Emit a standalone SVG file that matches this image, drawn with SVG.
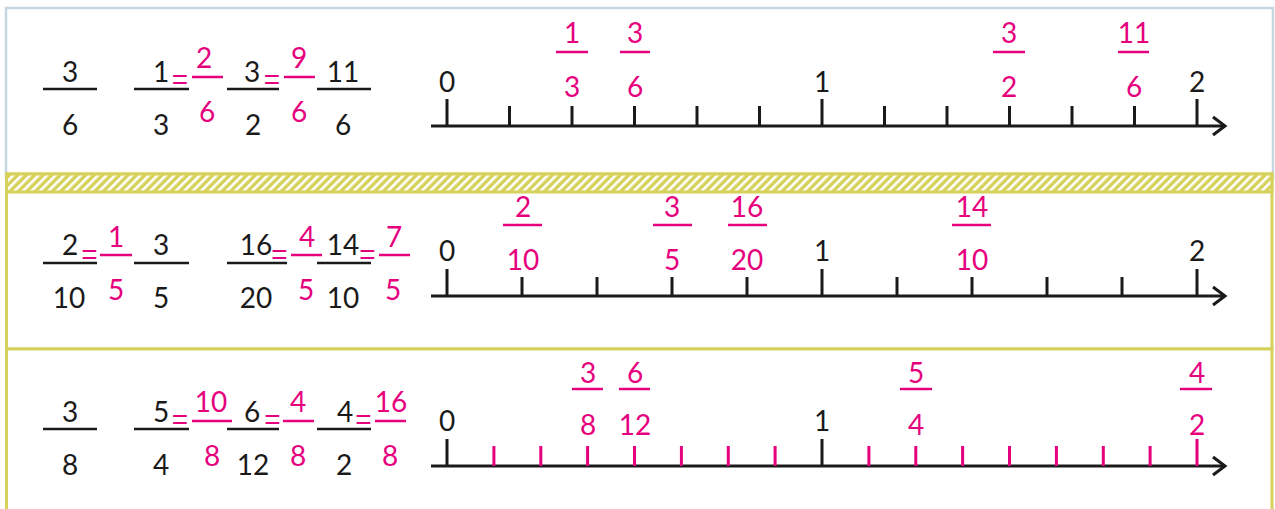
<svg xmlns="http://www.w3.org/2000/svg" width="1275" height="509" viewBox="0 0 1275 509">
<style>
text{font-family:Lato,"Liberation Sans",sans-serif;font-size:28px;text-anchor:middle;fill:#1a1a1a}
.p{fill:#e6007e}
.eq{font-family:"Liberation Sans",sans-serif;font-size:28px;fill:#e6007e}
.b{stroke:#1a1a1a;stroke-width:2.5;fill:none}
.pb{stroke:#e6007e;stroke-width:2.5;fill:none}
.t{stroke:#1a1a1a;stroke-width:3;fill:none}
.pt{stroke:#e6007e;stroke-width:3;fill:none}
.ax{stroke:#1a1a1a;stroke-width:3;fill:none}
.yl{stroke:#d5d15a;stroke-width:3;fill:#fff}
</style>
<defs>
<pattern id="hatch" patternUnits="userSpaceOnUse" width="6" height="6" patternTransform="rotate(45)">
<rect width="6" height="6" fill="#d5d15a"/>
<rect x="0" y="0" width="2.6" height="6" fill="#fff"/>
</pattern>
<marker id="chev" markerWidth="16" markerHeight="22" refX="13" refY="11" orient="auto" markerUnits="userSpaceOnUse">
<polyline points="1,2 13,11 1,20" stroke="#1a1a1a" stroke-width="3" fill="none"/>
</marker>
</defs>
<rect width="1275" height="509" fill="#fff"/>
<!-- panels -->
<g id="panels">
<rect x="6" y="8" width="1267" height="170" fill="#fff" stroke="#c5d6e0" stroke-width="2.5"/>
<rect class="yl" x="6.5" y="174" width="1265.5" height="175"/>
<rect x="6.5" y="174" width="1265.5" height="18" fill="url(#hatch)" stroke="#d5d15a" stroke-width="3"/>
<rect class="yl" x="6.5" y="349" width="1265.5" height="200"/>
</g>
<!-- Row 1 fractions -->
<g id="r1-f1"><line class="b" x1="43" y1="89" x2="97" y2="89"/><text x="70" y="82">3</text><text x="70" y="135">6</text></g>
<g id="r1-f2"><line class="b" x1="134" y1="89" x2="189" y2="89"/><text x="161" y="82">1</text><text x="161" y="135">3</text><text class="eq" x="180" y="88.5">=</text></g>
<g id="r1-f3"><line class="pb" x1="192" y1="77" x2="223" y2="77"/><text class="p" x="204" y="68">2</text><text class="p" x="207" y="122">6</text></g>
<g id="r1-f4"><line class="b" x1="227" y1="89" x2="279" y2="89"/><text x="252" y="82">3</text><text x="253" y="135">2</text><text class="eq" x="272" y="88.5">=</text></g>
<g id="r1-f5"><line class="pb" x1="284" y1="77" x2="315" y2="77"/><text class="p" x="299" y="68">9</text><text class="p" x="299" y="122">6</text></g>
<g id="r1-f6"><line class="b" x1="317" y1="89" x2="371" y2="89"/><text x="343" y="82">11</text><text x="343" y="135">6</text></g>
<!-- Row 1 number line -->
<g id="r1-line">
<line class="ax" x1="431" y1="126" x2="1225" y2="126" marker-end="url(#chev)"/>
<path class="t" d="M447 99V126M509.5 106V126M572 106V126M634.5 106V126M697 106V126M759.5 106V126M822 99V126M884.5 106V126M947 106V126M1009.5 106V126M1072 106V126M1134.5 106V126M1197 99V126"/>
<text x="447" y="92">0</text><text x="822" y="92">1</text><text x="1197" y="92">2</text>
</g>
<g id="r1-a1"><line class="pb" x1="556" y1="52" x2="588" y2="52"/><text class="p" x="572" y="43">1</text><text class="p" x="572" y="97">3</text></g>
<g id="r1-a2"><line class="pb" x1="620" y1="52" x2="650" y2="52"/><text class="p" x="635" y="43">3</text><text class="p" x="635" y="97">6</text></g>
<g id="r1-a3"><line class="pb" x1="993" y1="52" x2="1025" y2="52"/><text class="p" x="1009" y="43">3</text><text class="p" x="1009" y="97">2</text></g>
<g id="r1-a4"><line class="pb" x1="1118" y1="52" x2="1149" y2="52"/><text class="p" x="1134" y="43">11</text><text class="p" x="1134" y="97">6</text></g>
<!-- Row 2 fractions -->
<g id="r2-f1"><line class="b" x1="43" y1="263" x2="97" y2="263"/><text x="70" y="255">2</text><text x="69" y="308">10</text><text class="eq" x="89.5" y="264">=</text></g>
<g id="r2-f2"><line class="pb" x1="100" y1="255" x2="132" y2="255"/><text class="p" x="116" y="247">1</text><text class="p" x="116" y="300">5</text></g>
<g id="r2-f3"><line class="b" x1="134" y1="263" x2="189" y2="263"/><text x="161" y="255">3</text><text x="161" y="308">5</text></g>
<g id="r2-f4"><line class="b" x1="227" y1="263" x2="287" y2="263"/><text x="256" y="255">16</text><text x="256" y="308">20</text><text class="eq" x="279.5" y="264">=</text></g>
<g id="r2-f5"><line class="pb" x1="291" y1="255" x2="322" y2="255"/><text class="p" x="307" y="247">4</text><text class="p" x="306" y="300">5</text></g>
<g id="r2-f6"><line class="b" x1="317" y1="263" x2="371" y2="263"/><text x="343" y="255">14</text><text x="343" y="308">10</text><text class="eq" x="367.5" y="264">=</text></g>
<g id="r2-f7"><line class="pb" x1="379" y1="255" x2="410" y2="255"/><text class="p" x="394" y="247">7</text><text class="p" x="393" y="300">5</text></g>
<!-- Row 2 number line -->
<g id="r2-line">
<line class="ax" x1="431" y1="296" x2="1225" y2="296" marker-end="url(#chev)"/>
<path class="t" d="M447 269V296M522 277V296M597 277V296M672 277V296M747 277V296M822 269V296M897 277V296M972 277V296M1047 277V296M1122 277V296M1197 269V296"/>
<text x="447" y="261">0</text><text x="822" y="261">1</text><text x="1197" y="261">2</text>
</g>
<g id="r2-a1"><line class="pb" x1="503" y1="225" x2="542" y2="225"/><text class="p" x="523" y="217">2</text><text class="p" x="523" y="270">10</text></g>
<g id="r2-a2"><line class="pb" x1="653" y1="225" x2="692" y2="225"/><text class="p" x="672" y="217">3</text><text class="p" x="672" y="270">5</text></g>
<g id="r2-a3"><line class="pb" x1="728" y1="225" x2="767" y2="225"/><text class="p" x="747" y="217">16</text><text class="p" x="747" y="270">20</text></g>
<g id="r2-a4"><line class="pb" x1="952" y1="225" x2="991" y2="225"/><text class="p" x="972" y="217">14</text><text class="p" x="972" y="270">10</text></g>
<!-- Row 3 fractions -->
<g id="r3-f1"><line class="b" x1="43" y1="429" x2="97" y2="429"/><text x="70" y="422">3</text><text x="70" y="475">8</text></g>
<g id="r3-f2"><line class="b" x1="134" y1="429" x2="189" y2="429"/><text x="161" y="422">5</text><text x="161" y="475">4</text><text class="eq" x="180" y="428.5">=</text></g>
<g id="r3-f3"><line class="pb" x1="192" y1="421" x2="232" y2="421"/><text class="p" x="211" y="412">10</text><text class="p" x="212" y="466">8</text></g>
<g id="r3-f4"><line class="b" x1="227" y1="429" x2="279" y2="429"/><text x="252" y="422">6</text><text x="253" y="475">12</text><text class="eq" x="272.5" y="428.5">=</text></g>
<g id="r3-f5"><line class="pb" x1="283" y1="421" x2="314" y2="421"/><text class="p" x="298" y="412">4</text><text class="p" x="298" y="466">8</text></g>
<g id="r3-f6"><line class="b" x1="317" y1="429" x2="371" y2="429"/><text x="345" y="422">4</text><text x="344" y="475">2</text><text class="eq" x="363.5" y="428.5">=</text></g>
<g id="r3-f7"><line class="pb" x1="375" y1="421" x2="406" y2="421"/><text class="p" x="391" y="412">16</text><text class="p" x="390" y="466">8</text></g>
<!-- Row 3 number line -->
<g id="r3-line">
<line class="ax" x1="431" y1="466" x2="1225" y2="466" marker-end="url(#chev)"/>
<path class="t" d="M447 439V466M822 439V466"/>
<path class="pt" d="M493.9 446V466M540.8 446V466M587.6 446V466M634.5 446V466M681.4 446V466M728.3 446V466M775.1 446V466M868.9 446V466M915.8 446V466M962.6 446V466M1009.5 446V466M1056.4 446V466M1103.3 446V466M1150.1 446V466M1197 439V466"/>
<text x="447" y="431">0</text><text x="822" y="431">1</text>
</g>
<g id="r3-a1"><line class="pb" x1="572" y1="389" x2="603" y2="389"/><text class="p" x="588" y="383">3</text><text class="p" x="588" y="435">8</text></g>
<g id="r3-a2"><line class="pb" x1="619" y1="389" x2="650" y2="389"/><text class="p" x="635" y="383">6</text><text class="p" x="635" y="435">12</text></g>
<g id="r3-a3"><line class="pb" x1="900" y1="389" x2="932" y2="389"/><text class="p" x="916" y="383">5</text><text class="p" x="916" y="435">4</text></g>
<g id="r3-a4"><line class="pb" x1="1180" y1="389" x2="1212" y2="389"/><text class="p" x="1197" y="383">4</text><text class="p" x="1197" y="435">2</text></g>
</svg>
